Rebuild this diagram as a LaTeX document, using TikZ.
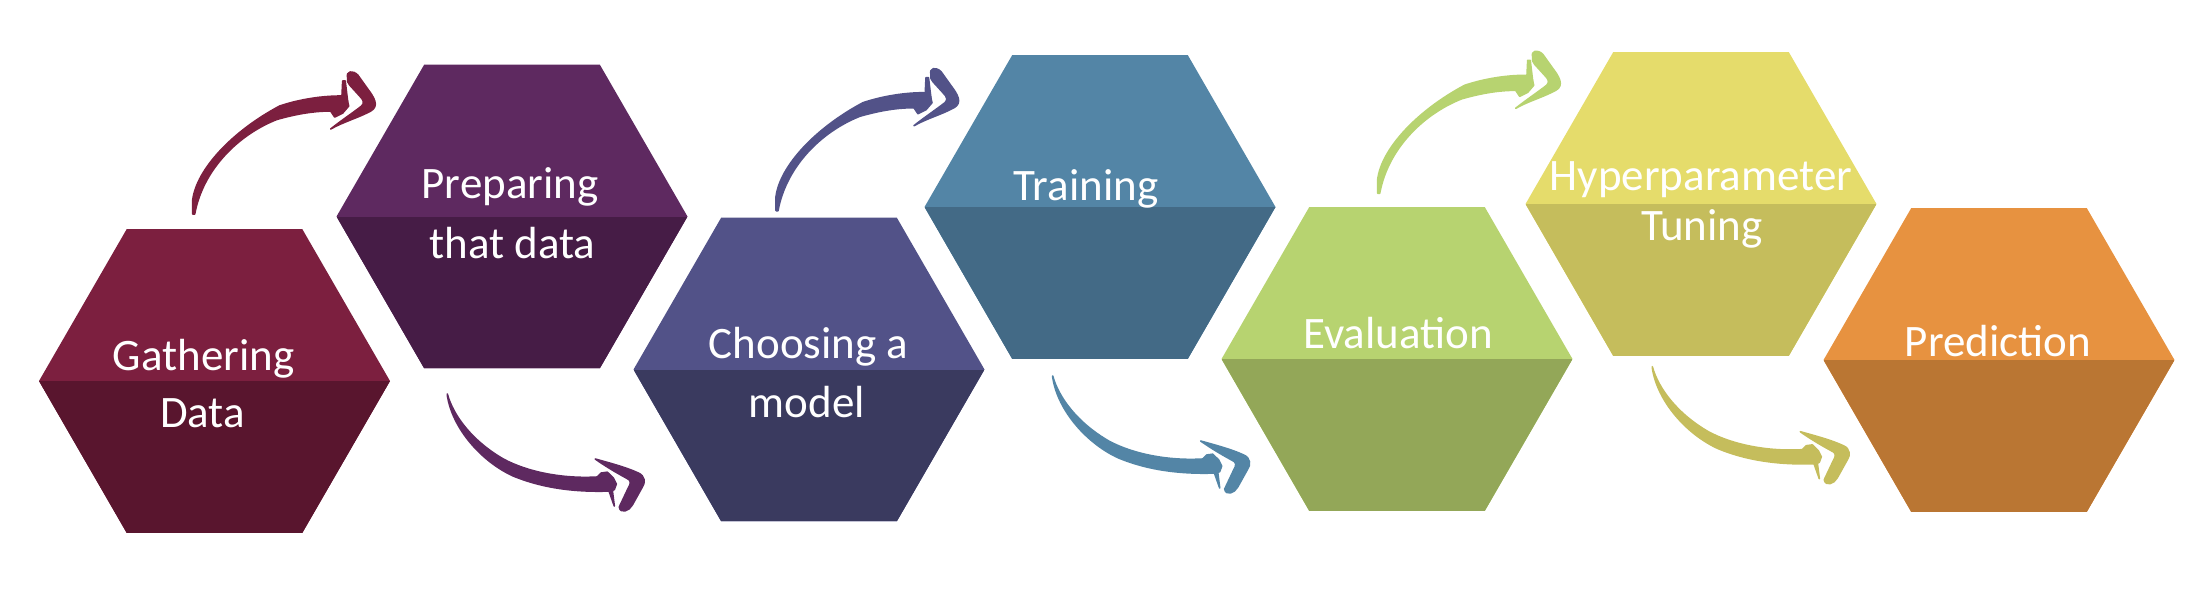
\documentclass[tikz,border=0pt]{standalone}
\usepackage{fontspec}
\setmainfont{Carlito}
\usetikzlibrary{shapes.geometric}
\definecolor{c1t}{RGB}{124,31,63}
\definecolor{c1b}{RGB}{89,21,46}
\definecolor{c2t}{RGB}{94,41,96}
\definecolor{c2b}{RGB}{70,28,70}
\definecolor{c3t}{RGB}{82,82,136}
\definecolor{c3b}{RGB}{58,58,95}
\definecolor{c4t}{RGB}{83,133,166}
\definecolor{c4b}{RGB}{67,106,134}
\definecolor{c5t}{RGB}{183,211,112}
\definecolor{c5b}{RGB}{147,167,88}
\definecolor{c6t}{RGB}{229,220,107}
\definecolor{c6b}{RGB}{197,189,92}
\definecolor{c7t}{RGB}{231,146,64}
\definecolor{c7b}{RGB}{186,118,51}
\tikzset{
  hexa/.style n args={2}{regular polygon, regular polygon sides=6,
    minimum size=175.5pt, inner sep=0pt, outer sep=0pt, fill=#1,
    path picture={\fill[#2] (path picture bounding box.west) rectangle (path picture bounding box.south east);}},
  lbl/.style={text=white, font=\fontsize{22.5}{27}\selectfont, anchor=base, inner sep=0pt},
  arrowink/.style={fill=#1, draw=#1, line width=0.8pt, line join=round},
  uparrow/.pic={
    \filldraw[pic actions] (0,0) -- (0,-14) .. controls (4,-45) and (40,-83) .. (87,-108)
      .. controls (108,-115) and (130,-118) .. (148,-118) -- (154,-116) -- (156,-108)
      -- (150,-101) -- (142,-97) -- (138,-103)
      .. controls (118,-103) and (100,-99) .. (84,-94.5)
      .. controls (45,-79) and (10,-44) .. (2,0) -- cycle;
    \filldraw[pic actions] (150,-133) -- (152.5,-133) -- (155,-112) -- (149,-112) -- cycle;
    \filldraw[pic actions] (155,-136) .. controls (153,-143) and (160,-144) .. (165,-139)
      -- (175,-125) .. controls (181,-117) and (187,-108) .. (178,-103)
      .. controls (165,-96) and (150,-92) .. (138,-85)
      .. controls (148,-93) and (160,-101) .. (169,-108)
      .. controls (172,-111) and (171,-114) .. (167,-118)
      -- (157,-129) .. controls (155,-131) and (154,-134) .. (155,-136) -- cycle;
  },
  downarrow/.pic={
    \filldraw[pic actions] (0,0) .. controls (6,22) and (25,47) .. (56,65)
      .. controls (80,78) and (115,85) .. (150,83) -- (154,79) -- (160,78.2)
      -- (166,84) -- (169,90) -- (167,95.5) -- (164,97)
      .. controls (135,98) and (100,96) .. (66,82)
      .. controls (35,68) and (5,35) .. (0,1) -- cycle;
    \filldraw[pic actions] (160,92) -- (164.5,92) -- (167,112) -- cycle;
    \filldraw[pic actions] (148,65) .. controls (162,69) and (178,73) .. (191,79)
      .. controls (198,82) and (198,89) .. (195,93) -- (185,111)
      .. controls (182,117) and (173,120) .. (172,113) -- (181,94)
      .. controls (184,89) and (184,86) .. (179,84)
      .. controls (168,78) and (158,72) .. (148,65) -- cycle;
  }
}
\begin{document}
\begin{tikzpicture}[x=0.5pt,y=-0.5pt]
\useasboundingbox (0,0) rectangle (2196,601);
% hexagons
\node[hexa={c1t}{c1b}] (h1) at (214.5,381) {};
\node[hexa={c2t}{c2b}] (h2) at (512,216.5) {};
\node[hexa={c3t}{c3b}] (h3) at (809,369.5) {};
\node[hexa={c4t}{c4b}] (h4) at (1100,207) {};
\node[hexa={c5t}{c5b}] (h5) at (1397,359) {};
\node[hexa={c6t}{c6b}] (h6) at (1701,204) {};
\node[hexa={c7t}{c7b}] (h7) at (1999,360) {};
% labels
\node[lbl] (t1a) at (203.5,370) {Gathering};
\node[lbl] (t1b) at (202.5,427) {Data};
\node[lbl] (t2a) at (510,198) {Preparing};
\node[lbl] (t2b) at (512.5,258) {that data};
\node[lbl] (t3a) at (808.5,358) {Choosing a};
\node[lbl] (t3b) at (807,417) {model};
\node[lbl] (t4a) at (1086,200) {Training};
\node[lbl] (t5a) at (1398,348) {Evaluation};
\node[lbl] (t6a) at (1701,190) {Hyperparameter};
\node[lbl] (t6b) at (1702,240) {Tuning};
\node[lbl] (t7a) at (1998,356.5) {Prediction};
% arrows
\pic[arrowink=c1t] at (192.7,214) {uparrow};
\pic[arrowink=c2t] at (447.3,394) {downarrow};
\pic[arrowink=c3t] at (776,210.7) {uparrow};
\pic[arrowink=c4t] at (1052.7,376) {downarrow};
\pic[arrowink=c5t] at (1377.7,193.3) {uparrow};
\pic[arrowink=c6b] at (1652.3,366.7) {downarrow};
\end{tikzpicture}
\end{document}
